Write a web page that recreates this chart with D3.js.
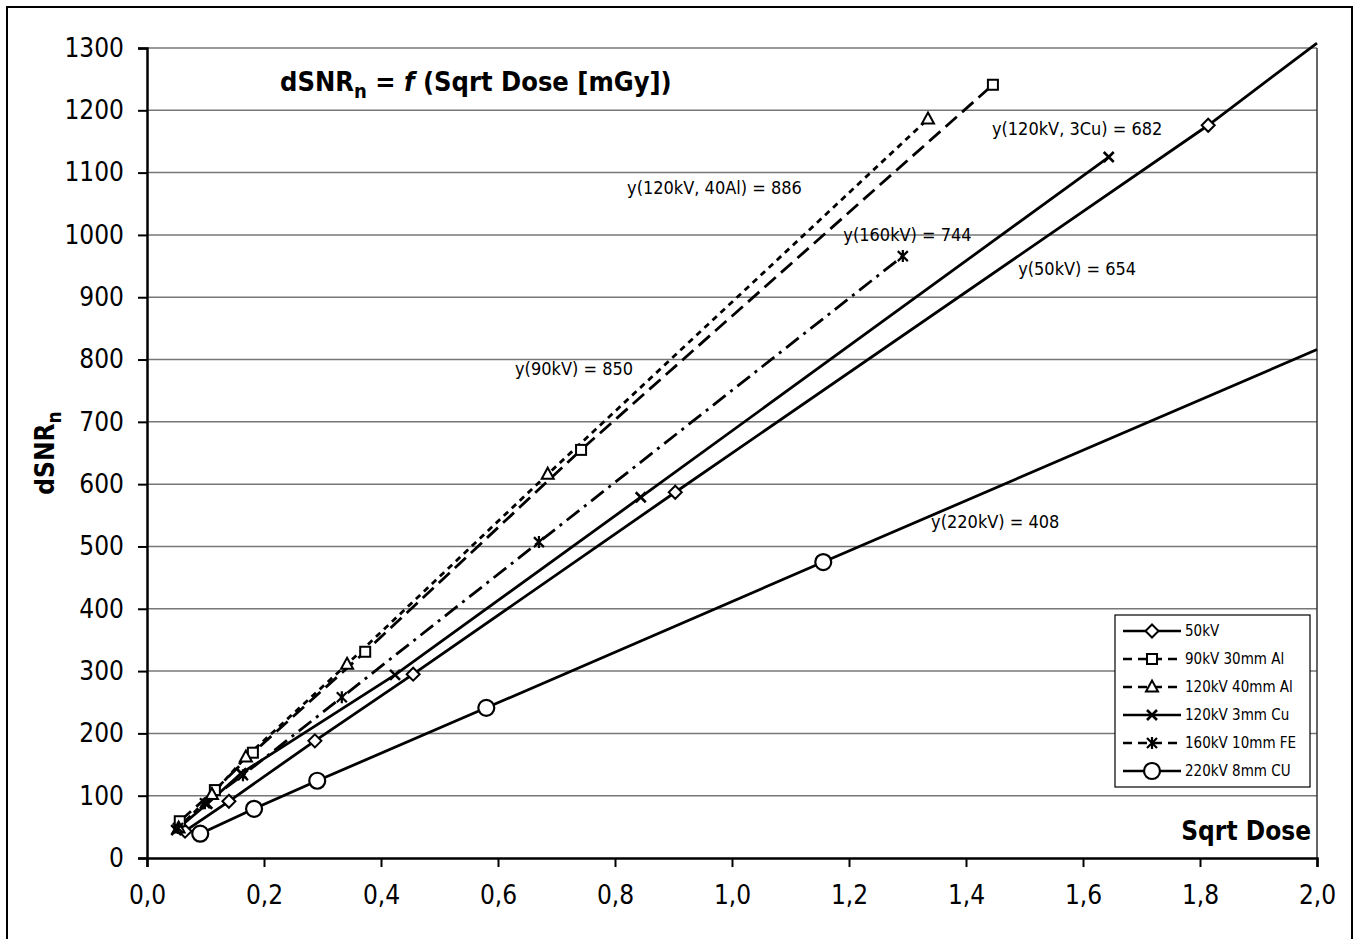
<!DOCTYPE html>
<html lang="en">
<head>
<meta charset="UTF-8" />
<title>dSNRn vs Sqrt Dose</title>
<style>
  body { margin: 0; background: #fff; }
  svg text { font-family: "DejaVu Sans Condensed", "DejaVu Sans", Verdana, sans-serif; font-stretch: condensed; fill: #000; }
</style>
</head>
<body>
<script src="https://cdn.jsdelivr.net/npm/d3@7"></script>
<div id="app"></div>
<script>
// data: [sqrt dose, dSNRn]
const kv50 = [[0.065, 43], [0.140, 91], [0.287, 188], [0.455, 295], [0.903, 587], [1.814, 1176]];
const kv90 = [[0.056, 59], [0.116, 109], [0.181, 169], [0.373, 331], [0.742, 655], [1.446, 1241]];
const kv120al = [[0.054, 48], [0.111, 102], [0.169, 162], [0.342, 311], [0.685, 616], [1.335, 1186]];
const kv120cu = [[0.050, 45], [0.103, 87], [0.161, 136], [0.424, 294], [0.844, 579], [1.644, 1125]];
const kv160 = [[0.053, 48], [0.099, 88], [0.164, 133], [0.333, 258], [0.670, 507], [1.292, 966]];
const kv220 = [[0.091, 39], [0.183, 79], [0.291, 124], [0.580, 241], [1.156, 475]];

const seriesNames = ["50kV", "90kV 30mm Al", "120kV 40mm Al", "120kV 3mm Cu", "160kV 10mm FE", "220kV 8mm CU"];
const seriesData = [kv50, kv90, kv120al, kv120cu, kv160, kv220];
const trendNames = ["50kV", "90kV", "120kV, 40Al", "120kV, 3Cu", "160kV", "220kV"];
const slopes = [654, 850, 886, 682, 744, 408];
const extendTrend = [true, false, false, false, false, true];

const yTicks = d3.range(0, 1301, 100);
const xTicks = d3.range(0, 2.01, 0.2);

// styling per series
const markers = ["diamond", "square", "triangle", "cross", "star", "circle"];
const dashes = [null, "15,7", "6,5", null, "16,6,3,6", null];
// where each trend label sits (data coords)
const labelPos = [[1.59, 935], [0.73, 775], [0.97, 1065], [1.59, 1160], [1.30, 990], [1.45, 530]];

const W = 1360, H = 939;
const m = { left: 147, right: 43, top: 48, bottom: 81 };

const svg = d3.select("#app").append("svg")
  .attr("width", W).attr("height", H);

svg.append("rect")
  .attr("x", 7).attr("y", 7).attr("width", 1345).attr("height", 950)
  .attr("fill", "#fff").attr("stroke", "#000").attr("stroke-width", 2);

const x = d3.scaleLinear().domain([0, 2]).range([m.left, W - m.right]);
const y = d3.scaleLinear().domain([0, 1300]).range([H - m.bottom, m.top]);

// grid
svg.append("g").selectAll("line")
  .data(yTicks.filter(d => d > 0))
  .enter().append("line")
  .attr("x1", x(0)).attr("x2", x(2))
  .attr("y1", d => y(d)).attr("y2", d => y(d))
  .attr("stroke", "#777").attr("stroke-width", 1.5);

svg.append("line")
  .attr("x1", x(2)).attr("x2", x(2)).attr("y1", y(0)).attr("y2", y(1300))
  .attr("stroke", "#333").attr("stroke-width", 1.5);

// axes
const yAxis = d3.axisLeft(y).tickValues(yTicks).tickSize(9).tickPadding(14)
  .tickFormat(d3.format("d"));
const xAxis = d3.axisBottom(x).tickValues(xTicks).tickSize(9).tickPadding(14)
  .tickFormat(d => d3.format(".1f")(d).replace(".", ","));

const gy = svg.append("g").attr("transform", `translate(${m.left},0)`).call(yAxis);
const gx = svg.append("g").attr("transform", `translate(0,${H - m.bottom})`).call(xAxis);
[gy, gx].forEach(g => {
  g.select(".domain").attr("stroke", "#000").attr("stroke-width", 2.5);
  g.selectAll(".tick line").attr("stroke", "#000").attr("stroke-width", 2);
  g.selectAll(".tick text").attr("font-size", 26).attr("fill", "#000")
    .style("font-family", "'DejaVu Sans Condensed', 'DejaVu Sans', sans-serif");
});
gx.selectAll(".tick text").attr("dy", "0.9em");

// lines
const line = d3.line().x(d => x(d[0])).y(d => y(d[1]));
seriesData.forEach((pts, i) => {
  let p = pts.slice();
  if (extendTrend[i]) p.push([2, slopes[i] * 2]);
  svg.append("path")
    .attr("d", line(p))
    .attr("fill", "none")
    .attr("stroke", "#000")
    .attr("stroke-width", 2.8)
    .attr("stroke-dasharray", dashes[i]);
});

// markers
function drawMarker(g, type, cx, cy) {
  const s = 6.5;
  if (type === "diamond") {
    g.append("path").attr("d", `M${cx},${cy - s}L${cx + s},${cy}L${cx},${cy + s}L${cx - s},${cy}Z`)
      .attr("fill", "#fff").attr("stroke", "#000").attr("stroke-width", 2);
  } else if (type === "square") {
    g.append("rect").attr("x", cx - 5).attr("y", cy - 5).attr("width", 10).attr("height", 10)
      .attr("fill", "#fff").attr("stroke", "#000").attr("stroke-width", 2);
  } else if (type === "triangle") {
    g.append("path").attr("d", `M${cx},${cy - 6.5}L${cx + 6},${cy + 4.5}L${cx - 6},${cy + 4.5}Z`)
      .attr("fill", "#fff").attr("stroke", "#000").attr("stroke-width", 2);
  } else if (type === "cross") {
    g.append("path").attr("d", `M${cx - 5},${cy - 5}L${cx + 5},${cy + 5}M${cx + 5},${cy - 5}L${cx - 5},${cy + 5}`)
      .attr("stroke", "#000").attr("stroke-width", 2.6);
  } else if (type === "star") {
    g.append("path").attr("d", `M${cx - 5},${cy - 5}L${cx + 5},${cy + 5}M${cx + 5},${cy - 5}L${cx - 5},${cy + 5}M${cx},${cy - 6}L${cx},${cy + 6}`)
      .attr("stroke", "#000").attr("stroke-width", 2.2);
  } else {
    g.append("circle").attr("cx", cx).attr("cy", cy).attr("r", 8)
      .attr("fill", "#fff").attr("stroke", "#000").attr("stroke-width", 2.2);
  }
}

const mg = svg.append("g");
seriesData.forEach((pts, i) => {
  pts.forEach(d => drawMarker(mg, markers[i], x(d[0]), y(d[1])));
});

// trend labels
svg.append("g").selectAll("text")
  .data(trendNames)
  .enter().append("text")
  .attr("x", (d, i) => x(labelPos[i][0]))
  .attr("y", (d, i) => y(labelPos[i][1]))
  .attr("text-anchor", "middle")
  .attr("font-size", 18)
  .text((d, i) => `y(${d}) = ${slopes[i]}`);

// title
const title = svg.append("text")
  .attr("x", 280).attr("y", 91)
  .attr("font-size", 27).attr("font-weight", "bold");
title.append("tspan").text("dSNR");
title.append("tspan").attr("font-size", 20).attr("dy", 7).text("n");
title.append("tspan").attr("dy", -7).text(" = ");
title.append("tspan").attr("font-style", "italic").text("f");
title.append("tspan").text(" (Sqrt Dose [mGy])");

// axis titles
const yt = svg.append("text")
  .attr("transform", `translate(54,${y(650)}) rotate(-90)`)
  .attr("text-anchor", "middle")
  .attr("font-size", 26).attr("font-weight", "bold");
yt.append("tspan").text("dSNR");
yt.append("tspan").attr("font-size", 19).attr("dy", 7).text("n");

svg.append("text")
  .attr("x", x(2) - 6).attr("y", y(0) - 18)
  .attr("text-anchor", "end")
  .attr("font-size", 26).attr("font-weight", "bold")
  .text("Sqrt Dose");

// legend
const lg = svg.append("g").attr("transform", "translate(1115,615)");
lg.append("rect").attr("width", 195).attr("height", 172)
  .attr("fill", "#fff").attr("stroke", "#000").attr("stroke-width", 1.2);
seriesNames.forEach((name, i) => {
  const ry = 16 + i * 28;
  lg.append("line")
    .attr("x1", 8).attr("x2", 66).attr("y1", ry).attr("y2", ry)
    .attr("stroke", "#000").attr("stroke-width", 2.6)
    .attr("stroke-dasharray", dashes[i] ? "9,6" : null);
  drawMarker(lg, markers[i], 37, ry);
  lg.append("text").attr("x", 70).attr("y", ry + 5)
    .attr("font-size", 15).text(name);
});
</script>
</body>
</html>
